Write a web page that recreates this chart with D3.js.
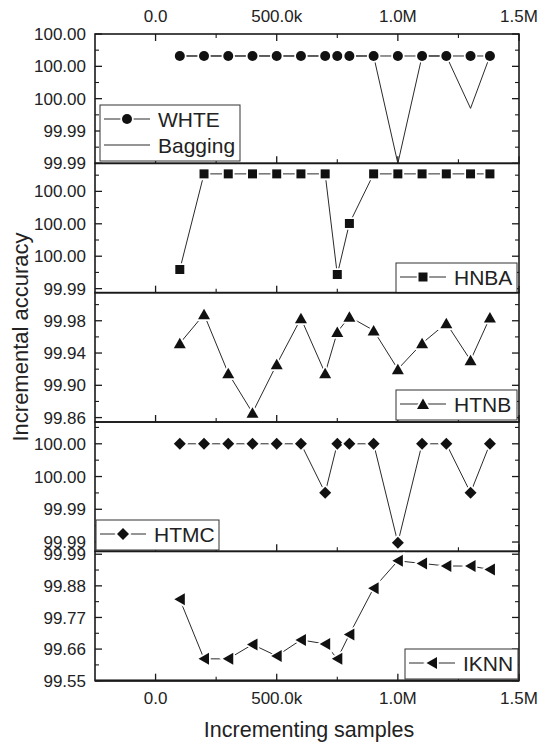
<!DOCTYPE html>
<html>
<head>
<meta charset="utf-8">
<script src="https://cdn.jsdelivr.net/npm/d3@7"></script>
<style>
  body { margin: 0; background: #fff; }
  svg { display: block; font-family: "Liberation Sans", Arial, sans-serif; }
</style>
</head>
<body>
<div id="chart"></div>
<script>
const width = 540;
const height = 745;
const margin = {top: 34, right: 21, bottom: 65, left: 95};

// shared x values (number of samples)
const samples = [100000, 200000, 300000, 400000, 500000, 600000, 700000, 750000,
                 800000, 900000, 1000000, 1100000, 1200000, 1300000, 1380000];
const xTickValues = [0, 500000, 1000000, 1500000];
const xTickLabels = ["0.0", "500.0k", "1.0M", "1.5M"];

// series values
const whte    = [99.99864, 99.99864, 99.99864, 99.99864, 99.99864, 99.99864, 99.99864, 99.99864,
                 99.99864, 99.99864, 99.99864, 99.99864, 99.99864, 99.99864, 99.99864];
const bagging = [99.99864, 99.99864, 99.99864, 99.99864, 99.99864, 99.99864, 99.99864, 99.99864,
                 99.99864, 99.99864, 99.99200, 99.99864, 99.99864, 99.99540, 99.99864];
const hnba    = [99.99518, 100.00108, 100.00108, 100.00108, 100.00108, 100.00108, 100.00108, 99.99487,
                 99.99802, 100.00108, 100.00108, 100.00108, 100.00108, 100.00108, 100.00108];
const htnb    = [99.952, 99.988, 99.915, 99.866, 99.926, 99.983, 99.915, 99.966,
                 99.985, 99.968, 99.920, 99.952, 99.977, 99.931, 99.984];
const htmc    = [99.998, 99.998, 99.998, 99.998, 99.998, 99.998, 99.99501, 99.998,
                 99.998, 99.998, 99.99196, 99.998, 99.998, 99.99501, 99.998];
const iknn    = [99.833, 99.626, 99.626, 99.676, 99.636, 99.692, 99.678, 99.626,
                 99.711, 99.872, 99.967, 99.958, 99.949, 99.949, 99.937];

// y tick values per panel
const ticksP1 = [99.992, 99.994, 99.996, 99.998, 100.000];
const ticksP2 = [99.994, 99.996, 99.998, 100.000];
const ticksP3 = [99.86, 99.90, 99.94, 99.98];
const ticksP4 = [99.992, 99.994, 99.996, 99.998];
const ticksP5 = [99.55, 99.66, 99.77, 99.88, 99.99];

const ink = "#1a1a1a";
const lineCol = "#2a2a2a";

const panels = [
  {domain: [99.992, 100.000], ticks: ticksP1,
   series: [{name: "Bagging", values: bagging, marker: null},
            {name: "WHTE", values: whte, marker: "circle"}],
   legend: {x: 100, y: 105, w: 140, entries: [{name: "WHTE", marker: "circle"}, {name: "Bagging", marker: null}]}},
  {domain: [99.99375, 100.00173], ticks: ticksP2,
   series: [{name: "HNBA", values: hnba, marker: "square"}],
   legend: {x: 396, y: 263, w: 121, entries: [{name: "HNBA", marker: "square"}]}},
  {domain: [99.8545, 100.0148], ticks: ticksP3,
   series: [{name: "HTNB", values: htnb, marker: "triangle"}],
   legend: {x: 396, y: 390, w: 121, entries: [{name: "HTNB", marker: "triangle"}]}},
  {domain: [99.99143, 99.99933], ticks: ticksP4,
   series: [{name: "HTMC", values: htmc, marker: "diamond"}],
   legend: {x: 96, y: 520, w: 123, entries: [{name: "HTMC", marker: "diamond"}]}},
  {domain: [99.55, 100.0], ticks: ticksP5,
   series: [{name: "IKNN", values: iknn, marker: "left"}],
   legend: {x: 405, y: 649, w: 113, entries: [{name: "IKNN", marker: "left"}]}}
];

function markerPath(type) {
  switch (type) {
    case "circle": return "M5,0A5,5 0 1,1 -5,0A5,5 0 1,1 5,0Z";
    case "square": return "M-4.5,-4.5H4.5V4.5H-4.5Z";
    case "triangle": return "M0,-5.5L6,5L-6,5Z";
    case "diamond": return "M0,-6L6,0L0,6L-6,0Z";
    case "left": return "M-5.5,0L5,-6L5,6Z";
  }
  return null;
}

const svg = d3.select("#chart").append("svg")
  .attr("width", width)
  .attr("height", height);

const plotBottom = height - margin.bottom + 0.7;
const panelH = (plotBottom - margin.top) / panels.length;

const x = d3.scaleLinear()
  .domain([-250000, 1500000])
  .range([margin.left, width - margin.right]);

const xMinor = [250000, 750000, 1250000];

panels.forEach((p, i) => {
  const top = margin.top + i * panelH;
  const bottom = top + panelH;
  const y = d3.scaleLinear().domain(p.domain).range([bottom, top]);
  const g = svg.append("g");

  // minor y ticks at half steps
  const step = p.ticks[1] - p.ticks[0];
  const minor = [];
  for (let v = p.ticks[0] - step * 4.5; v <= p.domain[1] + 1e-9; v += step) {
    if (v >= p.domain[0] - 1e-9) minor.push(v);
  }

  // y ticks: left + right, inward
  const L = margin.left, R = width - margin.right;
  p.ticks.forEach(t => {
    g.append("line").attr("x1", L).attr("x2", L + 7).attr("y1", y(t)).attr("y2", y(t))
      .attr("stroke", ink).attr("stroke-width", 1.3);
    g.append("line").attr("x1", R).attr("x2", R - 7).attr("y1", y(t)).attr("y2", y(t))
      .attr("stroke", ink).attr("stroke-width", 1.3);
    g.append("text")
      .attr("x", L - 9).attr("y", y(t)).attr("dy", "0.36em")
      .attr("text-anchor", "end")
      .style("font-size", "17px").style("fill", "#222")
      .text(d3.format(".2f")(t));
  });
  minor.forEach(t => {
    g.append("line").attr("x1", L).attr("x2", L + 4).attr("y1", y(t)).attr("y2", y(t))
      .attr("stroke", ink).attr("stroke-width", 1.1);
    g.append("line").attr("x1", R).attr("x2", R - 4).attr("y1", y(t)).attr("y2", y(t))
      .attr("stroke", ink).attr("stroke-width", 1.1);
  });

  // x ticks at panel bottom, inward
  xTickValues.forEach(v => {
    g.append("line").attr("x1", x(v)).attr("x2", x(v)).attr("y1", bottom).attr("y2", bottom - 7)
      .attr("stroke", ink).attr("stroke-width", 1.3);
  });
  xMinor.forEach(v => {
    g.append("line").attr("x1", x(v)).attr("x2", x(v)).attr("y1", bottom).attr("y2", bottom - 4)
      .attr("stroke", ink).attr("stroke-width", 1.1);
  });
  if (i === 0) {
    xTickValues.forEach(v => {
      g.append("line").attr("x1", x(v)).attr("x2", x(v)).attr("y1", top).attr("y2", top + 7)
        .attr("stroke", ink).attr("stroke-width", 1.3);
    });
    xMinor.forEach(v => {
      g.append("line").attr("x1", x(v)).attr("x2", x(v)).attr("y1", top).attr("y2", top + 4)
        .attr("stroke", ink).attr("stroke-width", 1.1);
    });
  }

  // panel frame
  g.append("rect")
    .attr("x", L).attr("y", top).attr("width", R - L).attr("height", panelH)
    .attr("fill", "none").attr("stroke", ink).attr("stroke-width", 1.6);

  // series
  const line = d3.line().x((d, j) => x(samples[j])).y(d => y(d));
  p.series.forEach(s => {
    g.append("path")
      .attr("d", line(s.values))
      .attr("fill", "none")
      .attr("stroke", lineCol)
      .attr("stroke-width", 1);
    if (s.marker) {
      g.selectAll(null)
        .data(s.values)
        .join("path")
        .attr("transform", (d, j) => `translate(${x(samples[j])},${y(d)})`)
        .attr("d", markerPath(s.marker))
        .attr("fill", "#111")
        .attr("stroke", "#fff")
        .attr("stroke-width", 3.5)
        .style("paint-order", "stroke");
    }
  });

  // legend
  const lg = p.legend;
  const lh = lg.entries.length * 26 + 4;
  const lgG = svg.append("g").attr("transform", `translate(${lg.x},${lg.y})`);
  lgG.append("rect")
    .attr("width", lg.w).attr("height", Math.min(lh, bottom - lg.y))
    .attr("fill", "#fff").attr("stroke", "#333").attr("stroke-width", 1);
  lg.entries.forEach((e, k) => {
    const cy = 14 + k * 26;
    lgG.append("line").attr("x1", 4).attr("x2", 50).attr("y1", cy).attr("y2", cy)
      .attr("stroke", lineCol).attr("stroke-width", 1);
    if (e.marker) {
      lgG.append("path")
        .attr("transform", `translate(27,${cy})`)
        .attr("d", markerPath(e.marker))
        .attr("fill", "#111").attr("stroke", "#fff").attr("stroke-width", 3.5)
        .style("paint-order", "stroke");
    }
    lgG.append("text")
      .attr("x", 58).attr("y", cy).attr("dy", "0.36em")
      .style("font-size", "21px").style("fill", "#222")
      .text(e.name);
  });
});

// top and bottom x labels
xTickValues.forEach((v, i) => {
  svg.append("text")
    .attr("x", x(v)).attr("y", 22)
    .attr("text-anchor", "middle")
    .style("font-size", "17px").style("fill", "#222")
    .text(xTickLabels[i]);
  svg.append("text")
    .attr("x", x(v)).attr("y", 704)
    .attr("text-anchor", "middle")
    .style("font-size", "17px").style("fill", "#222")
    .text(xTickLabels[i]);
});

// thicker bottom axis line
svg.append("line")
  .attr("x1", margin.left).attr("x2", width - margin.right)
  .attr("y1", plotBottom).attr("y2", plotBottom)
  .attr("stroke", ink).attr("stroke-width", 2.2);

// axis titles
svg.append("text")
  .attr("x", (margin.left + width - margin.right) / 2 + 2).attr("y", 737)
  .attr("text-anchor", "middle")
  .style("font-size", "21.5px").style("fill", "#222")
  .text("Incrementing samples");

svg.append("text")
  .attr("transform", `translate(28,337) rotate(-90)`)
  .attr("text-anchor", "middle")
  .style("font-size", "22px").style("fill", "#222")
  .text("Incremental accuracy");
</script>
</body>
</html>
